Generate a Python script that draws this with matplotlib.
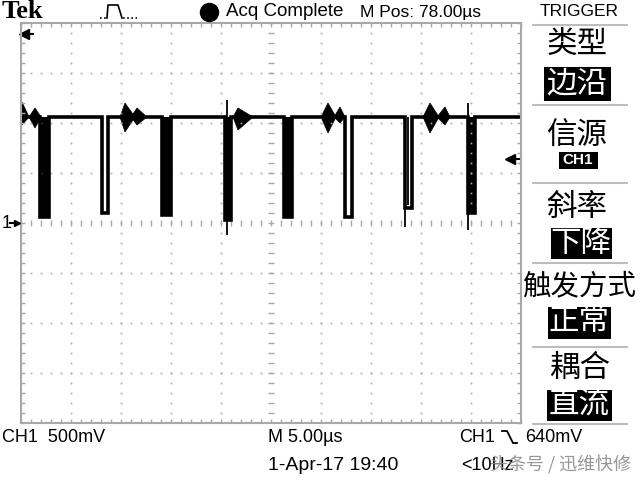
import matplotlib
matplotlib.use("Agg")
import matplotlib.pyplot as plt
import numpy as np
from matplotlib.lines import Line2D
from matplotlib.patches import Rectangle
from matplotlib.ticker import MultipleLocator

# time in us (5 us/div, 10 div), volts (0.5 V/div, ground at centre)
base_v = 1.06
pulse_start = [1.85, 8.05, 14.05, 20.35, 26.25, 32.4, 38.4, 44.65]
pulse_end = [2.75, 8.65, 14.95, 21.0, 27.05, 33.1, 39.1, 45.35]
pulse_low = [0.06, 0.10, 0.08, 0.03, 0.06, 0.06, 0.15, 0.10]
pulse_filled = [True, False, True, True, True, False, False, True]

spike_t = [20.6, 38.35, 38.65, 44.7]
spike_top = [1.23, 1.06, 1.06, 1.2]
spike_bot = [-0.12, -0.04, 0.18, -0.07]

# ringing bursts: start, peak, end, high, low
burst_t0 = [0.0, 0.8, 9.9, 11.0, 21.2, 30.0, 31.3, 40.2, 41.6]
burst_tp = [0.1, 1.4, 10.4, 11.6, 21.7, 30.7, 31.9, 40.9, 42.4]
burst_t1 = [0.8, 2.0, 11.4, 12.6, 23.2, 31.5, 32.4, 41.8, 42.9]
burst_hi = [1.21, 1.15, 1.20, 1.15, 1.15, 1.20, 1.16, 1.20, 1.16]
burst_lo = [0.98, 0.95, 0.91, 0.98, 0.93, 0.90, 1.00, 0.90, 0.98]

trig_level = 0.64

latin = ['Liberation Sans', 'DejaVu Sans']
cjk = ['Noto Sans CJK SC', 'DejaVu Sans']
grey = '#a8a8a8'

fig = plt.figure(figsize=(6.4, 4.8), dpi=100)
fig.patch.set_facecolor('white')


def fx(x):
    return x / 640


def fy(y):
    return 1 - y / 480


def ftext(x, y, s, **kw):
    kw.setdefault('family', latin)
    kw.setdefault('va', 'center')
    fig.text(fx(x), fy(y), s, **kw)


ax = fig.add_axes([fx(21), fy(423), 500 / 640, 400 / 480])
ax.set_xlim(0, 50)
ax.set_ylim(-2, 2)
for sp in ax.spines.values():
    sp.set_color(grey)
    sp.set_linewidth(1.5)
ax.xaxis.set_major_locator(MultipleLocator(5))
ax.xaxis.set_minor_locator(MultipleLocator(1))
ax.yaxis.set_major_locator(MultipleLocator(0.5))
ax.yaxis.set_minor_locator(MultipleLocator(0.1))
ax.tick_params(which='both', direction='in', top=True, right=True, length=3,
               width=1, color=grey, labelbottom=False, labelleft=False)

# graticule dots and centre ticks
fine_t = np.arange(0, 50.01, 1.0)
fine_v = np.arange(-2, 2.001, 0.1)
for xv in np.arange(5, 50, 5):
    if xv == 25:
        ax.plot(np.full_like(fine_v, xv), fine_v, ls='none', marker='_', ms=5,
                mew=1, color=grey)
    else:
        ax.plot(np.full_like(fine_v, xv), fine_v, ls='none', marker='s', ms=1.2,
                mew=0, color=grey)
for yv in np.arange(-1.5, 2.0, 0.5):
    if abs(yv) < 1e-9:
        ax.plot(fine_t, np.full_like(fine_t, yv), ls='none', marker='|', ms=5,
                mew=1, color=grey)
    else:
        ax.plot(fine_t, np.full_like(fine_t, yv), ls='none', marker='s', ms=1.2,
                mew=0, color=grey)

# trace
tt = [0.0]
vv = [base_v]
for s, e, lo in zip(pulse_start, pulse_end, pulse_low):
    tt += [s, s, e, e]
    vv += [base_v, lo, lo, base_v]
tt.append(50.0)
vv.append(base_v)
ax.plot(tt, vv, color='k', lw=2.6, solid_joinstyle='miter')

for s, e, lo, f in zip(pulse_start, pulse_end, pulse_low, pulse_filled):
    if f:
        ax.fill_between([s, e], lo, base_v, color='k', lw=0)

ax.vlines(spike_t, spike_bot, spike_top, color='k', lw=1.3)

for t0, tp, t1, hi, lo in zip(burst_t0, burst_tp, burst_t1, burst_hi, burst_lo):
    ax.fill([t0, tp, t1, tp], [base_v, hi, base_v, lo], color='k', lw=0.5)

# markers
ax.plot([49.0, 50.0], [trig_level, trig_level], color='k', lw=1.5, clip_on=False)
ax.plot([48.9], [trig_level], marker='<', ms=7, color='k', clip_on=False)
ax.plot([0.3, 1.2], [1.89, 1.89], color='k', lw=1.5, clip_on=False)
ax.plot([0.25], [1.89], marker='<', ms=7, color='k', clip_on=False)

# left ground marker
ftext(2, 223, '1', size=13)
fig.add_artist(Line2D([fx(10), fx(16)], [fy(223), fy(223)], color='k', lw=1.5))
fig.add_artist(Line2D([fx(17)], [fy(223)], marker='>', ms=5, color='k'))

# header
ftext(2, 12, 'Tek', family='Liberation Serif', weight='bold', size=19)
fig.add_artist(Line2D([fx(100), fx(107)], [fy(18), fy(18)], color='k', lw=1.2,
                      ls=(0, (1, 1.5))))
fig.add_artist(Line2D([fx(107), fx(108), fx(118), fx(122)],
                      [fy(18), fy(5), fy(5), fy(18)], color='k', lw=1.2))
fig.add_artist(Line2D([fx(123), fx(137)], [fy(18), fy(18)], color='k', lw=1.2,
                      ls=(0, (1, 1.5))))
fig.add_artist(Line2D([fx(209)], [fy(12)], marker='o', ms=13, color='k'))
ftext(226, 12, 'Acq Complete', size=13.5)
ftext(360, 12, 'M Pos: 78.00µs', size=12.5)
ftext(579, 11, 'TRIGGER', size=12.5, ha='center')

# right menu
for y in [25, 105, 183, 263, 347, 424]:
    fig.add_artist(Line2D([fx(533), fx(627)], [fy(y), fy(y)], color='#bdbdbd', lw=1.5))

boxes = [(544, 67, 611, 101), (559, 152, 598, 169), (551, 228, 612, 259),
         (548, 307, 611, 339), (547, 390, 612, 421)]
for x0, y0, x1, y1 in boxes:
    fig.add_artist(Rectangle((fx(x0), fy(y1)), (x1 - x0) / 640, (y1 - y0) / 480,
                             transform=fig.transFigure, color='k', lw=0))

ftext(577, 44, '类型', family=cjk, size=22, ha='center')
ftext(577, 84, '边沿', family=cjk, size=22, ha='center', color='white')
ftext(577, 135, '信源', family=cjk, size=22, ha='center')
ftext(578, 160, 'CH1', size=11, ha='center', color='white', weight='bold')
ftext(577, 207, '斜率', family=cjk, size=22, ha='center')
ftext(581, 243, '下降', family=cjk, size=22, ha='center', color='white')
ftext(579, 286, '触发方式', family=cjk, size=20.5, ha='center')
ftext(579, 322, '正常', family=cjk, size=22, ha='center', color='white')
ftext(580, 368, '耦合', family=cjk, size=22, ha='center')
ftext(579, 405, '直流', family=cjk, size=22, ha='center', color='white')

# bottom status
ftext(2, 437, 'CH1  500mV', size=13)
ftext(268, 437, 'M 5.00µs', size=13)
ftext(459, 437, 'CH1', size=13)
fig.add_artist(Line2D([fx(502), fx(507), fx(513), fx(517)],
                      [fy(431), fy(431), fy(443), fy(443)], color='k', lw=1.3))
ftext(525, 437, '640mV', size=13)
ftext(268, 465, '1-Apr-17 19:40', size=14)
ftext(461, 465, '<10Hz', size=13)
ftext(490, 465, '头条号 / 迅维快修', family=cjk, size=13, color='#8c8c8c', alpha=0.9)

fig.savefig('out.png', dpi=100)
